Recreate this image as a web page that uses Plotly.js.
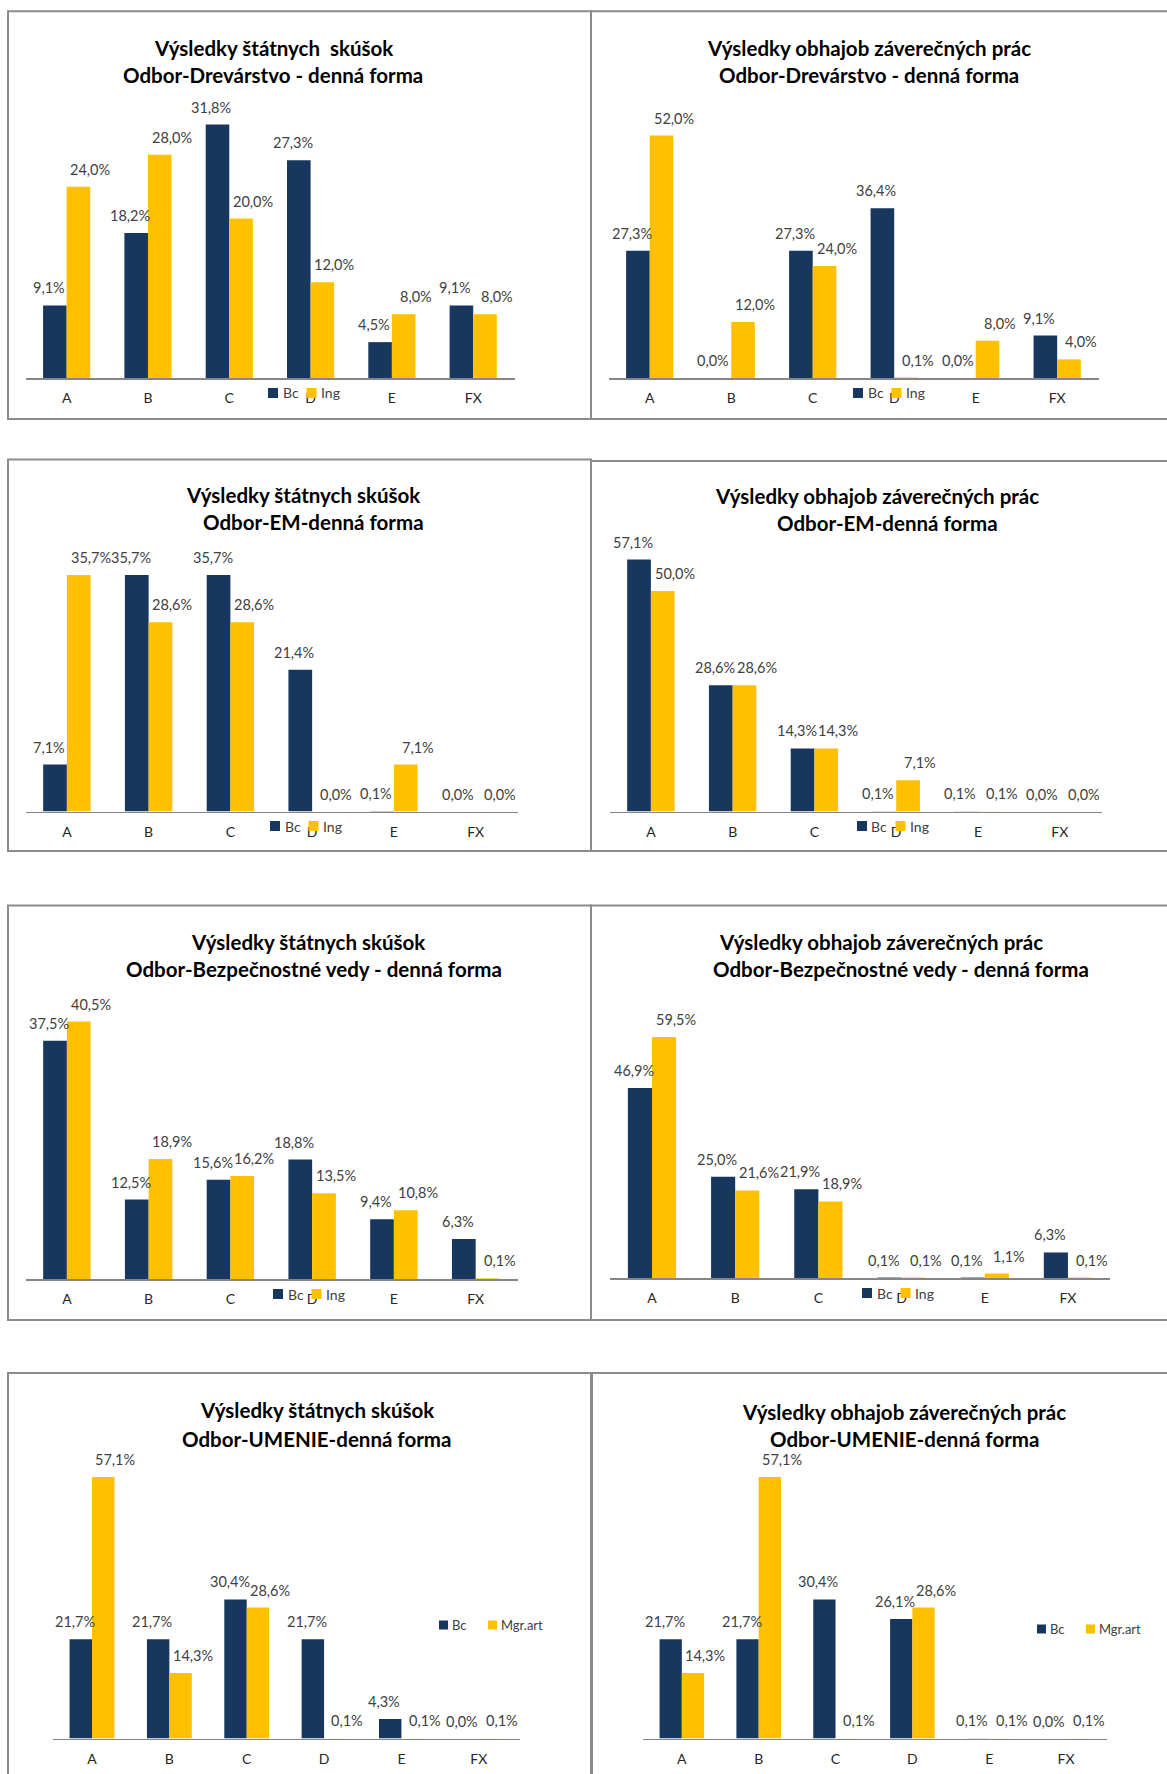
<!DOCTYPE html>
<html>
<head>
<meta charset="utf-8">
<script src="https://cdn.plot.ly/plotly-3.0.1.min.js"></script>
<style>
  html, body { margin: 0; padding: 0; background: #ffffff; }
  #chart { width: 1167px; height: 1774px; }
</style>
</head>
<body>
<div id="chart"></div>
<script>
// ---------- DATA ----------
const categories = ['A', 'B', 'C', 'D', 'E', 'FX'];

const namesIng = ['Bc', 'Ing'];
const namesArt = ['Bc', 'Mgr.art'];

// Drevárstvo
const drevStatneBc  = [9.1, 18.2, 31.8, 27.3, 4.5, 9.1];
const drevStatneIng = [24.0, 28.0, 20.0, 12.0, 8.0, 8.0];
const drevObhajBc   = [27.3, 0.0, 27.3, 36.4, 0.0, 9.1];
const drevObhajIng  = [52.0, 12.0, 24.0, 0.1, 8.0, 4.0];

// EM
const emStatneBc  = [7.1, 35.7, 35.7, 21.4, 0.1, 0.0];
const emStatneIng = [35.7, 28.6, 28.6, 0.0, 7.1, 0.0];
const emObhajBc   = [57.1, 28.6, 14.3, 0.1, 0.1, 0.0];
const emObhajIng  = [50.0, 28.6, 14.3, 7.1, 0.1, 0.0];

// Bezpečnostné vedy
const bezStatneBc  = [37.5, 12.5, 15.6, 18.8, 9.4, 6.3];
const bezStatneIng = [40.5, 18.9, 16.2, 13.5, 10.8, 0.1];
const bezObhajBc   = [46.9, 25.0, 21.9, 0.1, 0.1, 6.3];
const bezObhajIng  = [59.5, 21.6, 18.9, 0.1, 1.1, 0.1];

// UMENIE
const umStatneBc  = [21.7, 21.7, 30.4, 21.7, 4.3, 0.0];
const umStatneArt = [57.1, 14.3, 28.6, 0.1, 0.1, 0.1];
const umObhajBc   = [21.7, 21.7, 30.4, 26.1, 0.1, 0.0];
const umObhajArt  = [14.3, 57.1, 0.1, 28.6, 0.1, 0.1];

const titleStatneLine1a = 'Výsledky štátnych  skúšok';
const titleStatneLine1 = 'Výsledky štátnych skúšok';
const titleObhajLine1 = 'Výsledky obhajob záverečných prác';
const titleDrev = 'Odbor-Drevárstvo - denná forma';
const titleEM = 'Odbor-EM-denná forma';
const titleBez = 'Odbor-Bezpečnostné vedy - denná forma';
const titleUm = 'Odbor-UMENIE-denná forma';

// ---------- STYLE / LAYOUT ----------
const W = 1167, H = 1774;
const colBc = '#17375E';
const colIng = '#FFC000';
const fontFam = 'Lato, "Open Sans", sans-serif';
const px = x => x / W;
const py = y => 1 - y / H;
const BARGAP = 0.42;
const half = (1 - BARGAP) / 4;   // offset of each bar centre from category centre

const panels = [
  { bc: drevStatneBc, ing: drevStatneIng, names: namesIng, t: [titleStatneLine1a, titleDrev],
    tx: [273, 273], ty: [47.5, 74.7], xd: [26, 515], base: 378, top: 95, ymax: 35.5, lg: [268, 393], sq: 10, toff: 13.5, step: 38.5, lgs: 14 },
  { bc: drevObhajBc, ing: drevObhajIng, names: namesIng, t: [titleObhajLine1, titleDrev],
    tx: [869, 869], ty: [47.5, 74.7], xd: [609, 1099], base: 378, top: 95, ymax: 60.7, lg: [853, 393], sq: 10, toff: 13.5, step: 38.5, lgs: 14 },
  { bc: emStatneBc, ing: emStatneIng, names: namesIng, t: [titleStatneLine1, titleEM],
    tx: [303, 313], ty: [494.6, 521.8], xd: [26, 517.5], base: 811.6, top: 540, ymax: 41.0, lg: [270, 826], sq: 10, toff: 13.5, step: 38.5, lgs: 14 },
  { bc: emObhajBc, ing: emObhajIng, names: namesIng, t: [titleObhajLine1, titleEM],
    tx: [877, 887], ty: [495.8, 523], xd: [610, 1101.6], base: 811.6, top: 530, ymax: 63.8, lg: [857, 826], sq: 10, toff: 13.5, step: 38.5, lgs: 14 },
  { bc: bezStatneBc, ing: bezStatneIng, names: namesIng, t: [titleStatneLine1, titleBez],
    tx: [308, 313.5], ty: [941.7, 969], xd: [26, 517.5], base: 1279, top: 1000, ymax: 43.9, lg: [273, 1294], sq: 10, toff: 13.5, step: 38.5, lgs: 14 },
  { bc: bezObhajBc, ing: bezObhajIng, names: namesIng, t: [titleObhajLine1, titleBez],
    tx: [881, 901], ty: [941.7, 969], xd: [610.4, 1110], base: 1278, top: 1000, ymax: 68.6, lg: [862, 1293], sq: 10, toff: 13.5, step: 38.5, lgs: 14 },
  { bc: umStatneBc, ing: umStatneArt, names: namesArt, t: [titleStatneLine1, titleUm],
    tx: [317, 316], ty: [1410, 1438.6], xd: [52.8, 520], base: 1738.6, top: 1440, ymax: 65.2, lg: [439, 1625], sq: 9, toff: 11.5, step: 49, lgs: 13 },
  { bc: umObhajBc, ing: umObhajArt, names: namesArt, t: [titleObhajLine1, titleUm],
    tx: [904, 904], ty: [1411.5, 1438.6], xd: [642.7, 1107.2], base: 1738.6, top: 1440, ymax: 65.2, lg: [1037, 1629], sq: 9, toff: 11.5, step: 49, lgs: 13 }
];

const fmt = v => v.toFixed(1).replace('.', ',') + '%';

const traces = [];
const layout = {
  width: W, height: H,
  margin: { l: 0, r: 0, t: 0, b: 0 },
  paper_bgcolor: '#ffffff', plot_bgcolor: 'rgba(0,0,0,0)',
  barmode: 'group', bargap: BARGAP, bargroupgap: 0,
  showlegend: false,
  font: { family: fontFam, color: '#404040', size: 13 },
  annotations: [], shapes: []
};

panels.forEach((p, i) => {
  const n = i + 1;
  const xa = n === 1 ? 'x' : 'x' + n;
  const ya = n === 1 ? 'y' : 'y' + n;
  const series = [[p.bc, colBc, p.names[0], -half, -6], [p.ing, colIng, p.names[1], half, 12]];
  series.forEach(([vals, col, nm, off, shift], si) => {
    traces.push({
      type: 'bar', x: categories, y: vals, name: nm,
      xaxis: xa, yaxis: ya,
      marker: { color: col, line: { width: 0 } },
      hoverinfo: 'skip'
    });
    vals.forEach((v, k) => {
      layout.annotations.push({
        xref: xa, yref: ya, x: k + off, y: v,
        text: fmt(v), showarrow: false,
        xanchor: 'center', yanchor: 'bottom', xshift: shift, yshift: 7,
        font: { family: fontFam, size: 14.5, color: '#404040' }
      });
    });
    // legend entry (square + text)
    const lx = p.lg[0] + si * p.step;
    layout.shapes.push({
      type: 'rect', xref: 'paper', yref: 'paper',
      x0: px(lx), x1: px(lx + p.sq), y0: py(p.lg[1] + p.sq / 2), y1: py(p.lg[1] - p.sq / 2),
      line: { width: 0 }, fillcolor: col
    });
    layout.annotations.push({
      xref: 'paper', yref: 'paper', x: px(lx + p.toff), y: py(p.lg[1]),
      xanchor: 'left', yanchor: 'middle', showarrow: false, borderpad: 0,
      text: nm, font: { family: fontFam, size: p.lgs, color: '#404040' }
    });
  });
  const xKey = n === 1 ? 'xaxis' : 'xaxis' + n;
  const yKey = n === 1 ? 'yaxis' : 'yaxis' + n;
  layout[xKey] = {
    domain: [px(p.xd[0]), px(p.xd[1])], anchor: ya,
    type: 'category', showline: true, linecolor: '#868686', linewidth: 1.5,
    showgrid: false, zeroline: false,
    ticks: 'outside', ticklen: 7, tickcolor: 'rgba(0,0,0,0)',
    tickfont: { family: fontFam, size: 14, color: '#262626' },
    fixedrange: true
  };
  layout[yKey] = {
    domain: [py(p.base), py(p.top)], anchor: xa,
    range: [0, p.ymax], visible: false, fixedrange: true
  };
  p.t.forEach((txt, k) => {
    layout.annotations.push({
      text: '<b>' + txt + '</b>', xref: 'paper', yref: 'paper',
      x: px(p.tx[k]), y: py(p.ty[k]), xanchor: 'center', yanchor: 'middle',
      showarrow: false, font: { family: fontFam, size: 20.5, color: '#000000' }
    });
  });
});

// panel frames
const frames = [
  [8, 11.3, 591, 419], [591, 11.3, 1180, 419],
  [8, 459.5, 591, 851], [591, 461, 1180, 851],
  [8, 905.5, 591, 1320], [591, 905.5, 1180, 1320],
  [8, 1373, 591, 1800], [592, 1373, 1180, 1800]
];
frames.forEach(f => {
  layout.shapes.push({
    type: 'rect', xref: 'paper', yref: 'paper',
    x0: px(f[0]), x1: px(f[2]), y0: py(f[3]), y1: py(f[1]),
    line: { color: '#8C8C8C', width: 2 }, fillcolor: 'rgba(0,0,0,0)', layer: 'below'
  });
});

Plotly.newPlot('chart', traces, layout, { displayModeBar: false, staticPlot: true });
</script>
</body>
</html>
